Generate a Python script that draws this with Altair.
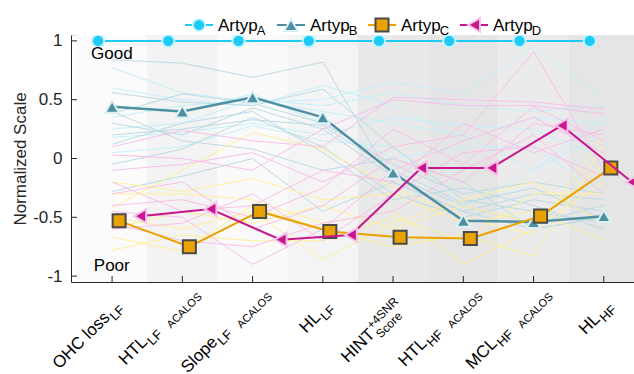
import math
import altair as alt
import pandas as pd

# ---- categories (axis labels are built from main text + sub/superscripts) ----
label_main = ["OHC loss", "HTL", "Slope", "HL", "HINT", "HTL", "MCL", "HL"]
label_sub = ["LF", "LF", "LF", "LF", "Score", "HF", "HF", "HF"]
label_subsub = ["", "ACALOS", "ACALOS", "", "", "ACALOS", "ACALOS", ""]
label_sup = ["", "", "", "", "+4SNR", "", "", ""]

# ---- auditory profile means ----
artyp_a = [1, 1, 1, 1, 1, 1, 1, 1]
artyp_b = [0.44, 0.40, 0.52, 0.35, -0.12, -0.53, -0.54, -0.49]
artyp_c = [-0.53, -0.75, -0.45, -0.62, -0.67, -0.68, -0.49, -0.08]
artyp_d = [-0.49, -0.43, -0.69, -0.65, -0.08, -0.08, 0.28, -0.20]

# ---- individual subjects per profile ----
subjects_a = [
    [0.77, 0.56, 0.48, 0.50, 0.65, 0.55, 0.95, 0.52],
    [0.25, 0.30, 0.50, 0.45, 0.56, 0.45, 0.40, 0.45],
    [0.18, 0.22, 0.30, 0.20, 0.35, 0.28, 0.25, 0.00],
    [0.05, 0.10, 0.28, 0.15, 0.10, -0.40, -0.10, 0.20],
    [0.35, 0.45, 0.50, 0.40, 0.30, 0.20, -0.10, 0.35],
    [0.45, 0.40, 0.55, 0.30, 0.00, 0.10, 0.10, -0.30],
    [0.60, 0.50, 0.45, 0.62, 0.45, 0.15, 0.35, 0.30],
]
subjects_b = [
    [0.84, 0.81, 0.69, 0.82, -0.20, -0.45, -0.60, -0.50],
    [0.56, 0.48, 0.45, 0.59, 0.10, -0.35, -0.45, -0.55],
    [0.38, 0.55, 0.47, 0.30, -0.05, -0.30, -0.20, -0.30],
    [0.30, 0.20, 0.43, 0.25, -0.15, -0.40, -0.55, -0.40],
    [0.12, 0.30, 0.40, 0.05, -0.35, -0.25, -0.40, -0.60],
    [-0.05, 0.08, 0.35, 0.10, -0.30, -0.50, -0.35, -0.45],
    [0.40, 0.15, 0.08, -0.10, 0.00, -0.20, -0.60, -0.50],
    [-0.28, -0.15, 0.00, -0.45, -0.20, -0.45, -0.30, -0.35],
    [0.20, 0.25, 0.33, 0.28, -0.10, -0.38, -0.25, -0.52],
]
subjects_c = [
    [-0.20, -0.28, -0.17, -0.35, -0.30, -0.55, -0.45, -0.70],
    [-0.30, -0.30, -0.35, -0.55, -0.45, -0.90, -0.60, -0.20],
    [-0.67, -0.79, -0.40, -0.60, -0.75, -0.65, -0.83, 0.10],
    [-0.50, -0.60, -0.45, -0.86, -0.55, -0.35, -0.20, -0.55],
    [-0.42, -0.10, 0.22, 0.08, -0.25, -0.50, -0.65, 0.20],
    [-0.60, -0.45, -0.55, -0.40, -0.60, -0.40, -0.55, -0.05],
    [-0.78, -0.65, -0.70, -0.70, -0.50, -0.70, -0.30, -0.30],
]
subjects_d = [
    [0.10, 0.24, 0.15, 0.10, 0.52, 0.50, 0.48, 0.42],
    [0.03, 0.00, -0.10, 0.25, 0.50, 0.45, 0.45, 0.38],
    [-0.10, -0.05, 0.05, -0.20, 0.10, 0.20, 0.91, -0.10],
    [-0.40, -0.35, -0.50, -0.25, 0.25, -0.05, 0.44, 0.15],
    [-0.45, -0.50, -0.90, -0.60, -0.10, 0.15, 0.35, 0.05],
    [-0.60, -0.55, -0.30, -0.70, -0.30, 0.05, 0.10, -0.15],
    [-0.30, -0.20, -0.60, -0.40, 0.00, -0.20, 0.30, 0.20],
    [-0.55, -0.70, -0.75, -0.55, -0.45, -0.10, 0.20, -0.30],
    [-0.20, -0.45, -0.40, -0.10, -0.20, 0.30, 0.05, 0.25],
]

# ---- styling ----
FONT = "Liberation Sans"
INK = "#262626"
W, H = 563, 247
band_fill = ["#fbfbfb", "#f3f3f3", "#fafafa", "#f4f4f4",
             "#e9e9e9", "#e5e5e5", "#ebebeb", "#e5e5e5"]
faint_color = {"A": "#c4f0fa", "B": "#bcdbe4", "C": "#fff09a", "D": "#f8c0e8"}
series_style = {
    "A": dict(color="#1ccbf6", halo="#c6f3fd", shape="circle", size=150, shift=-0.2, width=2),
    "B": dict(color="#4f8fa2", halo="#dcf1f6", shape="triangle-up", size=190, shift=0.0, width=2.5),
    "C": dict(color="#e9a200", halo="#4a4a4a", shape="square", size=170, shift=0.1, width=2),
    "D": dict(color="#c8168e", halo="#f6c3e8", shape="triangle-left", size=190, shift=0.4, width=2),
}
means = {"A": artyp_a, "B": artyp_b, "C": artyp_c, "D": artyp_d}
subjects = {"A": subjects_a, "B": subjects_b, "C": subjects_c, "D": subjects_d}

n = len(label_main)
xscale = alt.Scale(domain=[-0.585, 7.43], nice=False, zero=False)
yscale = alt.Scale(domain=[-1.05, 1.05], nice=False, zero=False)


def X(field):
    return alt.X(field, type="quantitative", scale=xscale,
                 axis=alt.Axis(labels=False, ticks=False, grid=False, title=None,
                               domainColor=INK, domainWidth=1))


def Y(field):
    return alt.Y(field, type="quantitative", scale=yscale,
                 axis=alt.Axis(values=[-1, -0.5, 0, 0.5, 1], labelExpr="toString(datum.value)",
                               ticks=False, grid=False, domainColor=INK, domainWidth=1,
                               labelFont=FONT, labelFontSize=17, labelColor=INK, labelPadding=9,
                               title="Normalized Scale", titleFont=FONT, titleFontSize=17,
                               titleFontWeight="normal", titleColor=INK, titlePadding=3))


layers = []

# alternating background bands, one per category
bands = pd.DataFrame({"lo": [i - 0.5 for i in range(n)], "hi": [i + 0.5 for i in range(n)],
                      "fill": band_fill})
layers.append(alt.Chart(bands).mark_rect(clip=True).encode(
    x=X("lo"), x2="hi", y=alt.value(0), y2=alt.value(H),
    color=alt.Color("fill:N", scale=None)))

# individual subjects
rows = []
for g in ["A", "B", "C", "D"]:
    for k, vals in enumerate(subjects[g]):
        for i, v in enumerate(vals):
            rows.append({"grp": g, "sid": f"{g}{k}", "pos": i, "val": v})
faint = pd.DataFrame(rows)
layers.append(alt.Chart(faint).mark_line(strokeWidth=1, clip=True).encode(
    x=X("pos"), y=Y("val"), detail="sid:N",
    color=alt.Color("grp:N", scale=alt.Scale(domain=list(faint_color), range=list(faint_color.values())),
                    legend=None)))

# profile means
for g in ["A", "B", "C", "D"]:
    st = series_style[g]
    df = pd.DataFrame({"pos": [i + st["shift"] for i in range(n)], "val": means[g]})
    base = alt.Chart(df)
    layers.append(base.mark_line(color=st["color"], strokeWidth=st["width"], clip=True).encode(
        x=X("pos"), y=Y("val")))
    layers.append(base.mark_point(shape=st["shape"], size=st["size"], filled=True, fill=st["color"],
                                  stroke=st["halo"], strokeWidth=2, opacity=1, clip=True).encode(
        x=X("pos"), y=Y("val")))

# inward ticks
layers.append(alt.Chart(pd.DataFrame({"val": [-1, -0.5, 0, 0.5, 1]})).mark_rule(color=INK).encode(
    y=Y("val"), x=alt.value(0), x2=alt.value(6)))
layers.append(alt.Chart(pd.DataFrame({"pos": list(range(n))})).mark_rule(color=INK).encode(
    x=X("pos"), y=alt.value(H), y2=alt.value(H - 6)))

# Good / Poor annotations
notes = pd.DataFrame({"pos": [-0.30, -0.26], "val": [0.847, -0.955], "t": ["Good", "Poor"]})
layers.append(alt.Chart(notes).mark_text(align="left", baseline="alphabetic", font=FONT,
                                         fontSize=17, color="black").encode(
    x=X("pos"), y=Y("val"), text="t:N"))

# rotated category labels with sub/superscripts
CW = {"A": 667, "C": 722, "F": 611, "H": 722, "I": 278, "L": 556, "M": 833, "N": 722,
      "O": 778, "R": 722, "S": 667, "T": 611, "c": 500, "e": 556, "l": 222, "o": 556,
      "p": 556, "r": 333, "s": 500, "t": 278, "y": 500, " ": 278, "+": 584, "4": 556}


def text_w(s, size):
    return sum(CW.get(ch, 556) for ch in s) / 1000 * size


c45 = math.sqrt(0.5)


def frame(a, b):
    # screen offset -> offset in the 45-degree rotated text frame
    return c45 * (a - b), c45 * (a + b)


LABEL_Y = 272     # label anchor row, just under the x axis
GAP = 10          # space before the second-level subscript
for i in range(n):
    main, sub, subsub, sup = label_main[i], label_sub[i], label_subsub[i], label_sup[i]
    if sup:
        L = 1 + max(text_w(sup, 12), text_w(sub, 12))
        pieces = [(main, 17, "right", -L, 0), (sup, 12, "left", -L + 1, -7), (sub, 12, "left", -L + 1, 6)]
        bdx, bdy = frame(11, 0)
    else:
        L = 1 + text_w(sub, 13) + (GAP + text_w(subsub, 11) if subsub else 0)
        pieces = [(main, 17, "right", -L, 0), (sub, 13, "left", -L + 1, 5)]
        if subsub:
            pieces.append((subsub, 11, "left", -L + 1 + text_w(sub, 13) + GAP, 6))
            bdx, bdy = frame(16, -14)   # longer labels are centred a little higher
        else:
            bdx, bdy = frame(10, 0)
    for txt, size, al, pdx, pdy in pieces:
        layers.append(alt.Chart(pd.DataFrame({"pos": [i], "t": [txt]})).mark_text(
            align=al, baseline="alphabetic", font=FONT, fontSize=size, color="black",
            dx=bdx + pdx, dy=bdy + pdy).encode(
            x=X("pos"), y=alt.value(LABEL_Y), text="t:N", angle=alt.value(315)))

# legend row above the plot
leg_x = [128, 220, 311, 403]
LEG_Y = -10
for g, mx in zip(["A", "B", "C", "D"], leg_x):
    st = series_style[g]
    one = alt.Chart(pd.DataFrame({"t": ["Artyp"], "s": [g]}))
    layers.append(one.mark_rule(color=st["color"], strokeWidth=2).encode(
        x=alt.value(mx - 14), x2=alt.value(mx + 14), y=alt.value(LEG_Y)))
    layers.append(one.mark_point(shape=st["shape"], size=st["size"], filled=True, fill=st["color"],
                                 stroke=st["halo"], strokeWidth=2, opacity=1).encode(
        x=alt.value(mx), y=alt.value(LEG_Y)))
    layers.append(one.mark_text(align="left", baseline="alphabetic", font=FONT, fontSize=17,
                                color="black").encode(
        x=alt.value(mx + 19), y=alt.value(LEG_Y + 6), text="t:N"))
    layers.append(one.mark_text(align="left", baseline="alphabetic", font=FONT, fontSize=13,
                                color="black").encode(
        x=alt.value(mx + 19 + text_w("Artyp", 17) - 1), y=alt.value(LEG_Y + 10), text="s:N"))

chart = alt.layer(*layers).properties(
    width=W, height=H,
    autosize=alt.AutoSizeParams(type="none"),
    padding={"left": 71, "top": 35, "right": 0, "bottom": 92},
).configure_view(stroke=None).configure(background="white")

chart.save("out.html", embed_options={"renderer": "svg", "actions": False})
